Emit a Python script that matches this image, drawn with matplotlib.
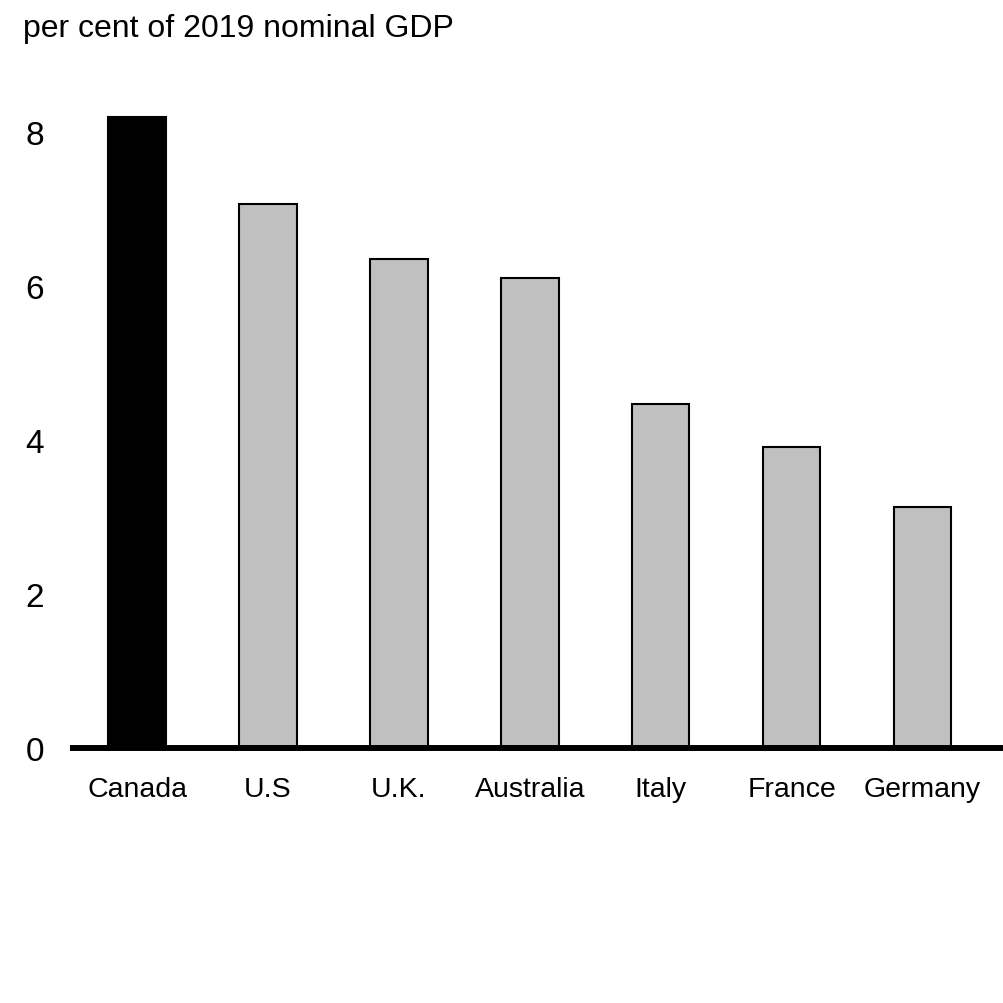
import numpy as np
import matplotlib.pyplot as plt

plt.rcParams['font.family'] = ['Liberation Sans', 'DejaVu Sans']

# data
countries = ['Canada', 'U.S', 'U.K.', 'Australia', 'Italy', 'France', 'Germany']
values = [8.2, 7.07, 6.35, 6.10, 4.47, 3.91, 3.13]
bar_colors = ['#000000'] + ['#c0c0c0'] * 6
y_ticks = [0, 2, 4, 6, 8]

fig = plt.figure(figsize=(10.04, 10.04), dpi=100)
ax = fig.add_axes([0.0727, 0.254, 0.923, 0.69])

x = np.arange(len(countries))
ax.bar(x, values, width=0.44, color=bar_colors, edgecolor='black', linewidth=1.5, zorder=2)

ax.set_xlim(-0.49, 6.59)
ax.set_ylim(0, 9)
ax.set_yticks(y_ticks)
ax.set_xticks(x)
ax.set_xticklabels(countries, fontsize=20.5)
ax.tick_params(axis='y', length=0, pad=21, labelsize=24)
ax.tick_params(axis='x', length=0, pad=20)

for side in ['top', 'right', 'left']:
    ax.spines[side].set_visible(False)
ax.spines['bottom'].set_linewidth(4.3)
ax.spines['bottom'].set_zorder(3)

fig.text(0.023, 1 - 37 / 1004, 'per cent of 2019 nominal GDP', fontsize=23, va='baseline', ha='left')

fig.savefig('out.png', dpi=100, facecolor='white')
